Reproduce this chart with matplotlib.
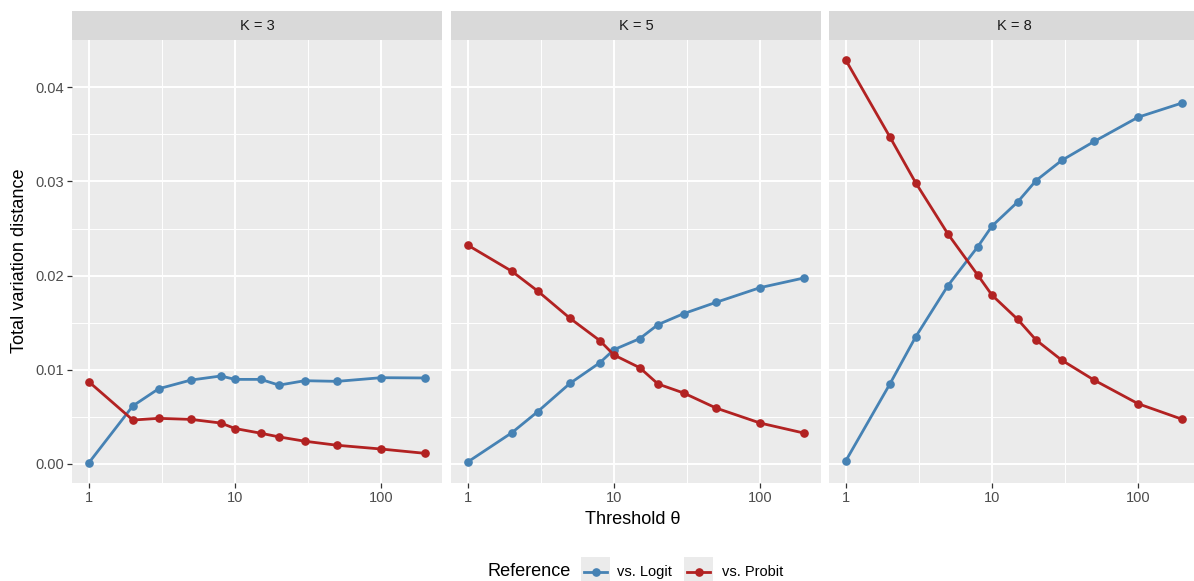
import matplotlib
matplotlib.use("Agg")
import matplotlib.pyplot as plt
import numpy as np

plt.rcParams['font.family'] = ['Liberation Sans', 'DejaVu Sans']

# data
thresholds = [1, 2, 3, 5, 8, 10, 15, 20, 30, 50, 100, 200]
panel_titles = ["K = 3", "K = 5", "K = 8"]

logit_k3 = [0.0001, 0.00615, 0.00797, 0.0089, 0.00933, 0.00897, 0.00897, 0.00836, 0.00883, 0.00876, 0.00915, 0.00912]
probit_k3 = [0.00872, 0.00465, 0.00483, 0.00472, 0.00433, 0.00375, 0.00325, 0.00286, 0.0024, 0.00197, 0.00157, 0.00111]

logit_k5 = [0.0002, 0.0033, 0.00553, 0.00855, 0.01074, 0.01213, 0.0133, 0.01479, 0.01596, 0.01716, 0.01872, 0.01975]
probit_k5 = [0.02323, 0.02046, 0.01837, 0.01546, 0.01309, 0.01156, 0.01021, 0.00848, 0.00752, 0.00592, 0.00433, 0.00326]

logit_k8 = [0.00032, 0.00847, 0.01347, 0.01894, 0.02307, 0.02526, 0.02783, 0.03009, 0.03224, 0.03425, 0.03683, 0.03834]
probit_k8 = [0.04289, 0.03474, 0.02988, 0.02441, 0.02004, 0.01792, 0.01534, 0.01316, 0.01101, 0.00889, 0.00638, 0.00473]

series_labels = ["vs. Logit", "vs. Probit"]
x_ticks = [1, 10, 100]
y_ticks = [0.00, 0.01, 0.02, 0.03, 0.04]

logit_all = [logit_k3, logit_k5, logit_k8]
probit_all = [probit_k3, probit_k5, probit_k8]

BLUE = "#4682B4"
RED = "#B22222"
PANEL_BG = "#EBEBEB"
STRIP_BG = "#D9D9D9"

W, H = 1194, 581
fig = plt.figure(figsize=(W / 100, H / 100), dpi=100)


def box(x0, y0, x1, y1):
    return [x0 / W, 1 - y1 / H, (x1 - x0) / W, (y1 - y0) / H]


lefts = [72, 451, 829]
pw = 370
ptop, pbot = 40, 483
stop = 11

lx = np.log10(thresholds)
xr = lx.max() - lx.min()
xlim = (10 ** (lx.min() - 0.05 * xr), 10 ** (lx.max() + 0.05 * xr))
ymin = min(min(s) for s in logit_all + probit_all)
ymax = max(max(s) for s in logit_all + probit_all)
yr = ymax - ymin
ylim = (ymin - 0.05 * yr, ymax + 0.05 * yr)

for i, left in enumerate(lefts):
    ax = fig.add_axes(box(left, ptop, left + pw, pbot))
    ax.set_facecolor(PANEL_BG)
    ax.set_xscale("log")
    ax.set_xlim(*xlim)
    ax.set_ylim(*ylim)
    for s in ax.spines.values():
        s.set_visible(False)

    # grid: minor then major
    for xm in [10 ** 0.5, 10 ** 1.5]:
        ax.axvline(xm, color="white", lw=0.7, zorder=0.5)
    for ym in [0.005, 0.015, 0.025, 0.035]:
        ax.axhline(ym, color="white", lw=0.7, zorder=0.5)
    for xt in x_ticks:
        ax.axvline(xt, color="white", lw=1.4, zorder=0.6)
    for yt in y_ticks:
        ax.axhline(yt, color="white", lw=1.4, zorder=0.6)

    ax.plot(thresholds, logit_all[i], color=BLUE, lw=2.0, marker="o", ms=5.2, zorder=3)
    ax.plot(thresholds, probit_all[i], color=RED, lw=2.0, marker="o", ms=5.2, zorder=3)

    ax.set_xticks(x_ticks)
    ax.set_xticklabels([str(t) for t in x_ticks])
    ax.xaxis.set_minor_locator(matplotlib.ticker.NullLocator())
    ax.set_yticks(y_ticks)
    if i == 0:
        ax.set_yticklabels(["%.2f" % t for t in y_ticks])
        ax.tick_params(axis="y", length=3.5, width=0.9, color="#333333",
                       labelcolor="#4D4D4D", labelsize=10.5, pad=2)
    else:
        ax.tick_params(axis="y", left=False, labelleft=False)
    ax.tick_params(axis="x", length=3.5, width=0.9, color="#333333",
                   labelcolor="#4D4D4D", labelsize=10.5, pad=2)

    sax = fig.add_axes(box(left, stop, left + pw, ptop))
    sax.set_facecolor(STRIP_BG)
    sax.set_xticks([])
    sax.set_yticks([])
    for s in sax.spines.values():
        s.set_visible(False)
    sax.text(0.5, 0.5, panel_titles[i], transform=sax.transAxes, ha="center",
             va="center", fontsize=10.5, color="#1A1A1A")

fig.text(633 / W, 1 - 519 / H, "Threshold θ", ha="center", va="center", fontsize=13.1)
fig.text(20 / W, 1 - 261 / H, "Total variation distance", ha="center", va="center",
         rotation=90, fontsize=13.1)

# legend
fig.text(488 / W, 1 - 572 / H, "Reference", ha="left", va="center", fontsize=13.1)
key_x = [581, 684]
text_x = [617, 722]
for kx, tx, col, lab in zip(key_x, text_x, [BLUE, RED], series_labels):
    kax = fig.add_axes(box(kx, 557, kx + 29, 586))
    kax.set_facecolor(PANEL_BG)
    kax.set_xlim(0, 1)
    kax.set_ylim(0, 1)
    kax.set_xticks([])
    kax.set_yticks([])
    for s in kax.spines.values():
        s.set_visible(False)
    kax.plot([0.1, 0.9], [0.5, 0.5], color=col, lw=2.0)
    kax.plot([0.5], [0.5], color=col, marker="o", ms=5.2)
    fig.text(tx / W, 1 - 572 / H, lab, ha="left", va="center", fontsize=10.5)

fig.savefig("out.png", dpi=100)
